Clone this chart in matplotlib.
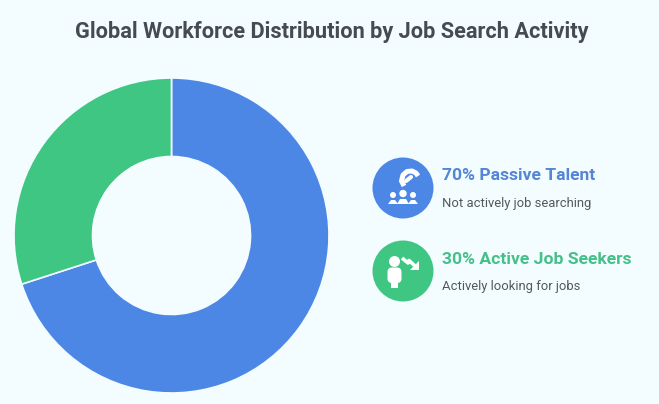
import matplotlib
matplotlib.use('Agg')
import matplotlib.pyplot as plt
from matplotlib.patches import Circle, FancyBboxPatch

# Values
shares = [70, 30]
colors = ['#4D87E6', '#3FC683']
heading_colors = ['#5585D6', '#45C088']
headings = ['70% Passive Talent', '30% Active Job Seekers']
subtitles = ['Not actively job searching', 'Actively looking for jobs']
title = 'Global Workforce Distribution by Job Search Activity'

BG = '#F3FDFF'
HEIGHT = 404


# Convert a y position measured from the top of the image
def Y(y):
    return HEIGHT - y


fig = plt.figure(figsize=(6.59, 4.04), dpi=100, facecolor=BG)
ax = fig.add_axes([0, 0, 1, 1])
ax.set_facecolor(BG)

# Donut, clockwise from the top
ax.pie(shares, colors=colors, startangle=90, counterclock=False,
       center=(171.5, Y(235.5)), radius=157.5,
       wedgeprops=dict(width=78.5, edgecolor=BG, linewidth=1.2))
ax.set_xlim(0, 659)
ax.set_ylim(0, HEIGHT)
ax.set_aspect('equal')
ax.axis('off')

ax.text(331.5, Y(32), title, family='Roboto', fontweight='bold', fontsize=15.7,
        color='#454B50', ha='center', va='center')

# Legend circles and texts
heading_y = [175.5, 260]
sub_y = [203.5, 286.5]
for i, y in enumerate([188, 271]):
    ax.add_patch(Circle((403, Y(y)), 30.5, color=colors[i], lw=0))
    ax.text(442, Y(heading_y[i]), headings[i], family='Roboto', fontweight='bold',
            fontsize=12.6, color=heading_colors[i], ha='left', va='center')
    ax.text(442, Y(sub_y[i]), subtitles[i], family='Roboto', fontsize=9.4,
            color='#53585C', ha='left', va='center')

# Icon 1: magnet over three people
ax.plot([404, 401.5, 403, 407, 412, 416, 418], [Y(186), Y(181), Y(175), Y(171.5), Y(171), Y(173), Y(176)],
        color='white', lw=3.6, solid_capstyle='butt', solid_joinstyle='round')
ax.plot([406, 411], [Y(181), Y(177)], color='white', lw=3, solid_capstyle='round')
for x, y, r in [(393, 195, 3), (403, 193.5, 3.7), (413, 195, 3)]:
    ax.add_patch(Circle((x, Y(y)), r, color='white', lw=0))
for x0, x1, top in [(388, 398, 200), (397, 409, 199), (408, 418, 200)]:
    ax.fill([x0, x0 + 3, x1 - 3, x1], [Y(204), Y(top), Y(top), Y(204)],
            color='white', lw=0)

# Icon 2: person with a falling arrow
ax.add_patch(Circle((394.5, Y(261.5)), 5.5, color='white', lw=0))
ax.add_patch(FancyBboxPatch((387.5, Y(283)), 14, 15.5, boxstyle='round,pad=0,rounding_size=4.5',
                            color='white', lw=0))
ax.fill([391, 398, 398, 391], [Y(288), Y(288), Y(280), Y(280)], color='white', lw=0)
ax.plot([402, 408, 409, 415], [Y(258), Y(263), Y(260.5), Y(266)], color='white', lw=2.6,
        solid_capstyle='butt')
ax.fill([419, 419, 410], [Y(261), Y(269.5), Y(269.5)], color='white', lw=0)

fig.savefig('out.png', dpi=100, facecolor=BG)
